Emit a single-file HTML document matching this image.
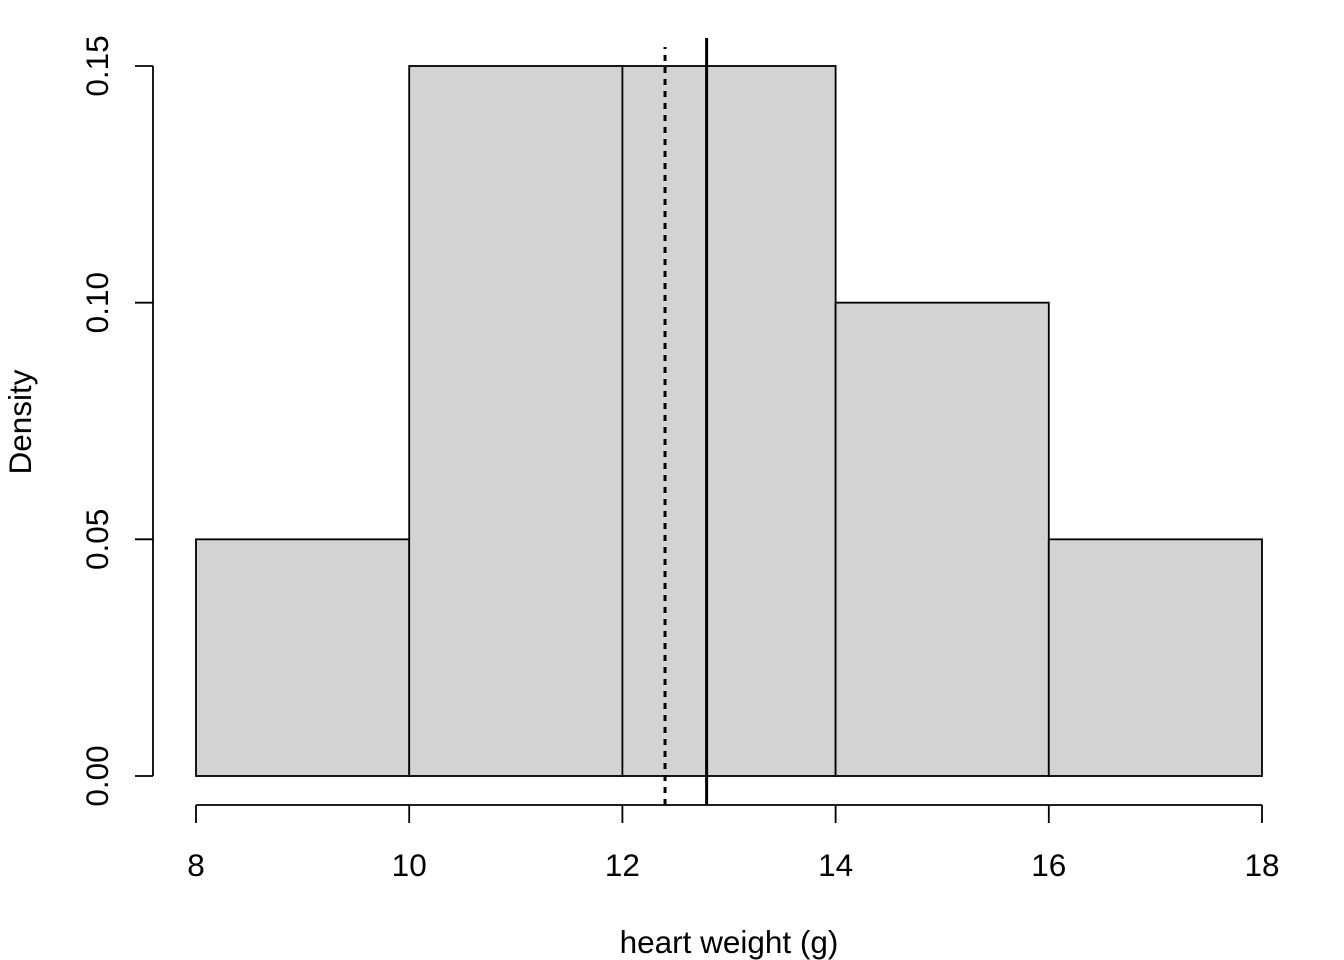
<!DOCTYPE html>
<html><head><meta charset="utf-8"><style>
html,body{margin:0;padding:0;background:#fff;}
svg{display:block;font-family:"Liberation Sans",Arial,sans-serif;}
</style></head><body>
<svg id="chart" width="1344" height="960" viewBox="0 0 1344 960" xmlns="http://www.w3.org/2000/svg"></svg>
<script>
const binStarts = [8, 10, 12, 14, 16];
const binWidth = 2;
const densities = [0.05, 0.15, 0.15, 0.10, 0.05];
const xTicks = [8, 10, 12, 14, 16, 18];
const yTicks = [0, 0.05, 0.10, 0.15];
const yTickLabels = ["0.00", "0.05", "0.10", "0.15"];
const medianValue = 12.40;
const meanValue = 12.79;

const NS = "http://www.w3.org/2000/svg";
const svg = document.getElementById('chart');
const xs = v => 196 + (v - 8) * (1262 - 196) / 10;
const ys = v => 776 - v * (776 - 66) / 0.15;
function mk(tag, attrs, parent) {
  const e = document.createElementNS(NS, tag);
  for (const k in attrs) e.setAttribute(k, attrs[k]);
  (parent || svg).appendChild(e);
  return e;
}

binStarts.forEach((b, i) => {
  const r = mk('rect', {x: xs(b), y: ys(densities[i]), width: xs(b + binWidth) - xs(b), height: ys(0) - ys(densities[i]), fill: '#d3d3d3', stroke: '#000', 'stroke-width': 1.8});
  
  
});

const xa = mk('g', {});


mk('line', {x1: xs(xTicks[0]), x2: xs(xTicks[xTicks.length - 1]), y1: 805, y2: 805, stroke: '#000', 'stroke-width': 1.8}, xa);
xTicks.forEach(t => {
  mk('line', {x1: xs(t), x2: xs(t), y1: 805, y2: 823, stroke: '#000', 'stroke-width': 1.8}, xa);
  const tx = mk('text', {x: xs(t), y: 876, 'font-size': 31.5, 'text-anchor': 'middle'}, xa);
  tx.textContent = t;
  
  
});

const ya = mk('g', {});


mk('line', {x1: 153, x2: 153, y1: ys(yTicks[0]), y2: ys(yTicks[yTicks.length - 1]), stroke: '#000', 'stroke-width': 1.8}, ya);
yTicks.forEach((t, i) => {
  mk('line', {x1: 135, x2: 153, y1: ys(t), y2: ys(t), stroke: '#000', 'stroke-width': 1.8}, ya);
  const tx = mk('text', {x: 0, y: 0, 'font-size': 31.5, 'text-anchor': 'middle', transform: `translate(108,${ys(t)}) rotate(-90)`}, ya);
  tx.textContent = yTickLabels[i];
  
  
});

const med = mk('line', {x1: xs(medianValue), x2: xs(medianValue), y1: 805, y2: 47, stroke: '#000', 'stroke-width': 3, 'stroke-dasharray': '6 6'});


const mean = mk('line', {x1: xs(meanValue), x2: xs(meanValue), y1: 805, y2: 38, stroke: '#000', 'stroke-width': 3});



const xt = mk('text', {x: 729, y: 953, 'font-size': 31.5, 'text-anchor': 'middle'});
xt.textContent = 'heart weight (g)';


const yt = mk('text', {x: 0, y: 0, 'font-size': 31.5, 'text-anchor': 'middle', transform: 'translate(31,422) rotate(-90)'});
yt.textContent = 'Density';


</script>
</body></html>
